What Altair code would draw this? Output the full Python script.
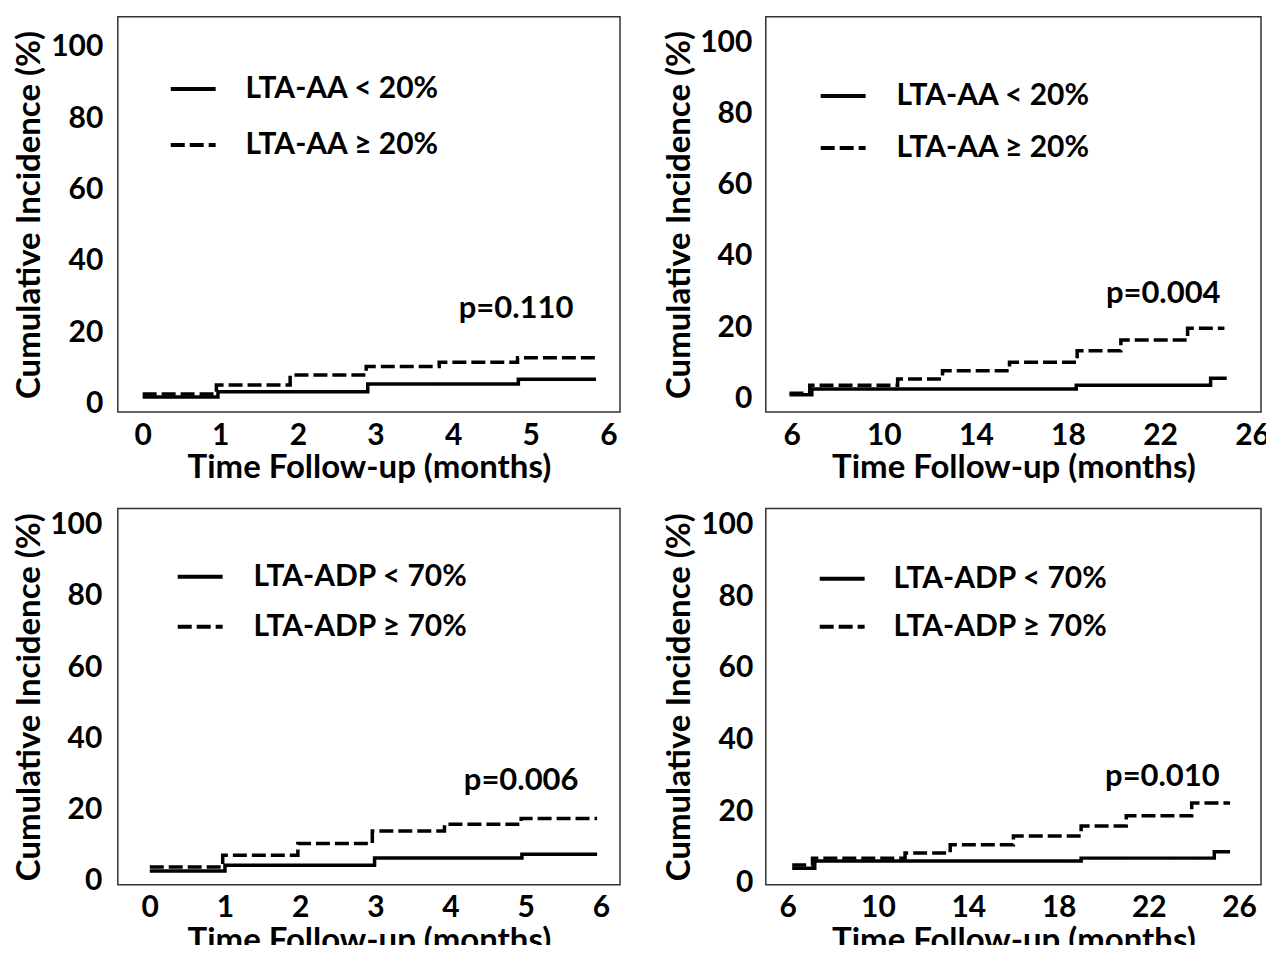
import altair as alt
import pandas as pd

# ---------------- data ----------------
aa_groups = ["LTA-AA < 20%", "LTA-AA \u2265 20%"]
adp_groups = ["LTA-ADP < 70%", "LTA-ADP \u2265 70%"]

# Panel 1: AA, 0-6 months
p1_time_lo = [0, 0.97, 2.9, 4.84, 5.84]
p1_cum_lo = [1.8, 3.3, 5.5, 6.8, 6.8]
p1_time_hi = [0, 0.95, 1.9, 2.88, 3.82, 4.83, 5.84]
p1_cum_hi = [2.7, 5.2, 8.0, 10.4, 11.6, 12.8, 12.8]
p1_pval = "p=0.110"

# Panel 2: AA, 6-26 months
p2_time_lo = [5.9, 6.87, 18.36, 24.2, 24.9]
p2_cum_lo = [1.1, 2.7, 3.7, 5.7, 5.7]
p2_time_hi = [5.9, 6.78, 10.6, 12.55, 15.46, 18.4, 20.3, 23.2, 24.8]
p2_cum_hi = [1.5, 3.7, 5.5, 7.8, 10.2, 13.4, 16.4, 19.7, 19.7]
p2_pval = "p=0.004"

# Panel 3: ADP, 0-6 months
p3_time_lo = [0, 1.0, 2.99, 4.95, 5.95]
p3_cum_lo = [2.8, 4.4, 6.4, 7.5, 7.5]
p3_time_hi = [0, 0.97, 1.97, 2.96, 3.92, 4.94, 5.95]
p3_cum_hi = [3.9, 7.2, 10.5, 14.0, 15.9, 17.5, 17.5]
p3_pval = "p=0.006"

# Panel 4: ADP, 6-26 months
p4_time_lo = [6.2, 7.2, 19.0, 24.9, 25.6]
p4_cum_lo = [4.1, 6.1, 6.9, 8.7, 8.7]
p4_time_hi = [6.2, 7.1, 11.2, 13.2, 16.0, 19.0, 21.0, 23.9, 25.6]
p4_cum_hi = [5.0, 6.9, 8.3, 10.6, 13.1, 15.9, 18.7, 22.3, 22.3]
p4_pval = "p=0.010"

y_ticks = [0, 20, 40, 60, 80, 100]
x_ticks_early = [0, 1, 2, 3, 4, 5, 6]
x_ticks_late = [6, 10, 14, 18, 22, 26]

FONT = "Lato"
LFS = 30   # tick labels / legend
TFS = 33   # axis titles
PFS = 31   # p-value


def make_df(t_lo, c_lo, t_hi, c_hi, groups):
    rows = []
    for t, c in zip(t_lo, c_lo):
        rows.append({"time": t, "cum": c, "group": groups[0]})
    for t, c in zip(t_hi, c_hi):
        rows.append({"time": t, "cum": c, "group": groups[1]})
    return pd.DataFrame(rows)


def panel(df, groups, xdom, ydom, xticks, w, h, pval, pxy, leg, ylp, ytp):
    axis_common = dict(
        domain=False, ticks=False, grid=False, format="d",
        labelFont=FONT, labelFontWeight="bold", labelFontSize=LFS, labelColor="black",
        titleFont=FONT, titleFontWeight="bold", titleFontSize=TFS, titleColor="black",
        labelOverlap=False, labelFlush=False,
    )
    lines = alt.Chart(df).mark_line(
        interpolate="step-after", strokeWidth=3.5, color="black"
    ).encode(
        x=alt.X("time:Q",
                scale=alt.Scale(domain=xdom, nice=False, zero=False),
                axis=alt.Axis(values=xticks, title="Time Follow-up (months)",
                              labelPadding=8, titlePadding=2, **axis_common)),
        y=alt.Y("cum:Q",
                scale=alt.Scale(domain=ydom, nice=False, zero=False),
                axis=alt.Axis(values=y_ticks, title="Cumulative Incidence (%)",
                              labelPadding=ylp, titlePadding=ytp, **axis_common)),
        strokeDash=alt.StrokeDash(
            "group:N",
            scale=alt.Scale(domain=groups, range=[[1, 0], [14, 5]]),
            legend=alt.Legend(
                title=None, orient="none", legendX=leg["x"], legendY=leg["y"],
                symbolType="stroke", symbolSize=2025, symbolStrokeWidth=4,
                symbolStrokeColor="black",
                labelFont=FONT, labelFontWeight="bold", labelFontSize=LFS,
                labelColor="black", labelOffset=leg["off"], labelLimit=500,
                rowPadding=leg["rp"], padding=0,
            ),
        ),
    )
    ptxt = alt.Chart(pd.DataFrame({"label": [pval]})).mark_text(
        font=FONT, fontWeight="bold", fontSize=PFS, color="black"
    ).encode(
        x=alt.datum(pxy[0]),
        y=alt.datum(pxy[1]),
        text="label:N",
    )
    return alt.layer(lines, ptxt).properties(width=w, height=h)


c1 = panel(make_df(p1_time_lo, p1_cum_lo, p1_time_hi, p1_cum_hi, aa_groups), aa_groups,
           [-0.32, 6.15], [-2.4, 108.4], x_ticks_early, 503, 396, p1_pval, (4.81, 26.4),
           {"x": 51, "y": 48, "off": 28, "rp": 16}, 15, 4)
c2 = panel(make_df(p2_time_lo, p2_cum_lo, p2_time_hi, p2_cum_hi, aa_groups), aa_groups,
           [4.87, 26.39], [-3.8, 107.1], x_ticks_late, 496, 396, p2_pval, (22.14, 29.3),
           {"x": 53, "y": 55, "off": 29, "rp": 12}, 14, 3)
c3 = panel(make_df(p3_time_lo, p3_cum_lo, p3_time_hi, p3_cum_hi, adp_groups), adp_groups,
           [-0.425, 6.255], [-1.1, 104.5], x_ticks_early, 503, 377, p3_pval, (4.94, 28.0),
           {"x": 58, "y": 44, "off": 29, "rp": 10}, 16, 3)
c4 = panel(make_df(p4_time_lo, p4_cum_lo, p4_time_hi, p4_cum_hi, adp_groups), adp_groups,
           [5.03, 26.97], [-0.56, 104.5], x_ticks_late, 496, 377, p4_pval, (22.6, 29.6),
           {"x": 52, "y": 46, "off": 27, "rp": 8}, 13, 4)

chart = alt.concat(
    c1, c2, c3, c4, columns=2, spacing={"row": 21.5, "column": 42}
).resolve_scale(strokeDash="independent").resolve_legend(strokeDash="independent").configure_view(
    stroke="#333333", strokeWidth=1.5
).properties(padding={"left": 5, "top": 7, "right": -5, "bottom": -15}, background="white")

chart.save("out.html", embed_options={"renderer": "svg", "actions": False})
